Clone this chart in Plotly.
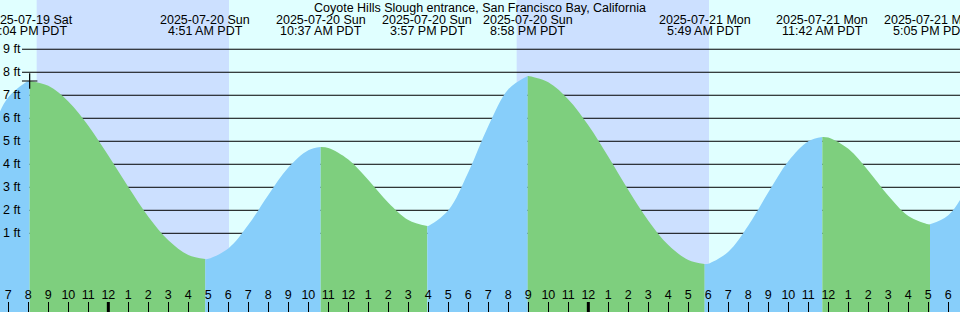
import pandas as pd
import plotly.graph_objects as go

W, H = 960, 312
TITLE = "Coyote Hills Slough entrance, San Francisco Bay, California"

# ---- data ----
# tide extremes (time, height in ft)
event_times = ["2025-07-19 15:13", "2025-07-19 20:04", "2025-07-20 04:51", "2025-07-20 10:37",
               "2025-07-20 15:57", "2025-07-20 20:58", "2025-07-21 05:49", "2025-07-21 11:42",
               "2025-07-21 17:05", "2025-07-21 22:36"]
event_heights = [1.5, 7.62, -0.12, 4.75, 1.32, 7.84, -0.33, 5.19, 1.39, 7.3]
event_date_labels = [None, "2025-07-19 Sat", "2025-07-20 Sun", "2025-07-20 Sun", "2025-07-20 Sun",
                     "2025-07-20 Sun", "2025-07-21 Mon", "2025-07-21 Mon", "2025-07-21 Mon", None]
event_time_labels = [None, "8:04 PM PDT", "4:51 AM PDT", "10:37 AM PDT", "3:57 PM PDT",
                     "8:58 PM PDT", "5:49 AM PDT", "11:42 AM PDT", "5:05 PM PDT", None]

# hourly tide heights (ft) from 2025-07-19 18:00
hourly_start = "2025-07-19 18:00"
hourly_heights = [5.26, 6.91, 7.62, 7.41, 6.73, 5.68, 4.38, 3.01, 1.72, 0.70, 0.06, -0.11,
                  0.34, 1.37, 2.67, 3.86, 4.61, 4.71, 4.21, 3.32, 2.33, 1.58, 1.32, 2.00,
                  3.65, 5.66, 7.26, 7.84, 7.57, 6.82, 5.70, 4.33, 2.88, 1.55, 0.49, -0.16,
                  -0.32, 0.20, 1.34, 2.78, 4.13, 5.00, 5.16, 4.67, 3.72, 2.63, 1.75, 1.39,
                  1.79, 2.99]

# night periods (sunset, sunrise)
night_start = ["2025-07-19 20:25", "2025-07-20 20:25"]
night_end = ["2025-07-20 06:02", "2025-07-21 06:02"]
day_starts = ["2025-07-20 00:00", "2025-07-21 00:00"]
marker_time = ["2025-07-19 20:04"]
marker_height = [7.62]

ft_levels = [1, 2, 3, 4, 5, 6, 7, 8, 9]
x_range = ["2025-07-19 18:35", "2025-07-21 18:35"]
y_range = [-2.42, 11.14]

# ---- styles ----
DAY = "#e0ffff"
NIGHT = "#cce0ff"
FLOOD = "#87cefa"
EBB = "#7ecf7e"
FONT = "Liberation Sans, Arial, sans-serif"
FS = 12.5

hourly_times = pd.date_range(hourly_start, periods=len(hourly_heights), freq="h")
samples = pd.DataFrame({"t": hourly_times, "h": hourly_heights})
events = pd.DataFrame({"t": pd.to_datetime(event_times), "h": event_heights})

fig = go.Figure()
ymin = y_range[0]
for i in range(len(events) - 1):
    ta, tb = events.t[i], events.t[i + 1]
    ha, hb = events.h[i], events.h[i + 1]
    inner = samples[(samples.t > ta) & (samples.t < tb)]
    xs = [ta] + list(inner.t) + [tb]
    ys = [ha] + list(inner.h) + [hb]
    color = FLOOD if hb > ha else EBB
    fig.add_trace(go.Scatter(x=[ta, tb], y=[ymin, ymin], mode="lines",
                             line=dict(width=0, color=color), hoverinfo="skip", showlegend=False))
    fig.add_trace(go.Scatter(x=xs, y=ys, mode="lines", fill="tonexty", fillcolor=color,
                             line=dict(width=0, color=color, shape="spline"),
                             hoverinfo="skip", showlegend=False))

fig.add_trace(go.Scatter(x=marker_time, y=marker_height, mode="markers",
                         marker=dict(symbol="cross-thin", size=11,
                                     line=dict(width=1.2, color="black")),
                         showlegend=False, hoverinfo="skip"))

shapes = []
for a, b in zip(night_start, night_end):
    shapes.append(dict(type="rect", xref="x", yref="paper", x0=a, x1=b, y0=0, y1=1,
                       fillcolor=NIGHT, line=dict(width=0), layer="below"))
for v in ft_levels:
    shapes.append(dict(type="line", xref="paper", yref="y", x0=22 / W, x1=1, y0=v, y1=v,
                       line=dict(color="black", width=1), layer="below"))
for d in day_starts:
    shapes.append(dict(type="line", xref="x", yref="paper", x0=d, x1=d, y0=0, y1=10 / H,
                       line=dict(color="black", width=3), layer="above"))

ann = []
ann.append(dict(text=TITLE, xref="paper", yref="paper", x=0.5, y=1 - 7.5 / H,
                xanchor="center", yanchor="middle", showarrow=False,
                font=dict(family=FONT, size=FS, color="black")))
for t, dl, tl in zip(event_times, event_date_labels, event_time_labels):
    if dl is None:
        continue
    ann.append(dict(text=dl, xref="x", yref="paper", x=t, y=1 - 19.5 / H,
                    xanchor="center", yanchor="middle", showarrow=False,
                    font=dict(family=FONT, size=FS, color="black")))
    ann.append(dict(text=tl, xref="x", yref="paper", x=t, y=1 - 31.5 / H,
                    xanchor="center", yanchor="middle", showarrow=False,
                    font=dict(family=FONT, size=FS, color="black")))
for v in ft_levels:
    ann.append(dict(text=f"{v} ft", xref="paper", yref="y", x=0, y=v, xshift=1,
                    xanchor="left", yanchor="middle", showarrow=False,
                    font=dict(family=FONT, size=FS, color="black")))

fig.update_layout(
    width=W, height=H, autosize=False,
    margin=dict(l=0, r=0, t=0, b=0),
    paper_bgcolor=DAY, plot_bgcolor=DAY,
    shapes=shapes, annotations=ann,
    xaxis=dict(type="date", range=x_range, showgrid=False, zeroline=False, showline=False,
               dtick=3600000, tickformat="%-I", ticks="inside", ticklen=10, tickwidth=1,
               tickcolor="black", ticklabelposition="inside",
               tickfont=dict(family=FONT, size=FS, color="black"), fixedrange=True),
    yaxis=dict(range=y_range, showgrid=False, zeroline=False, showline=False,
               showticklabels=False, ticks="", fixedrange=True),
)
fig.write_html("out.html")
